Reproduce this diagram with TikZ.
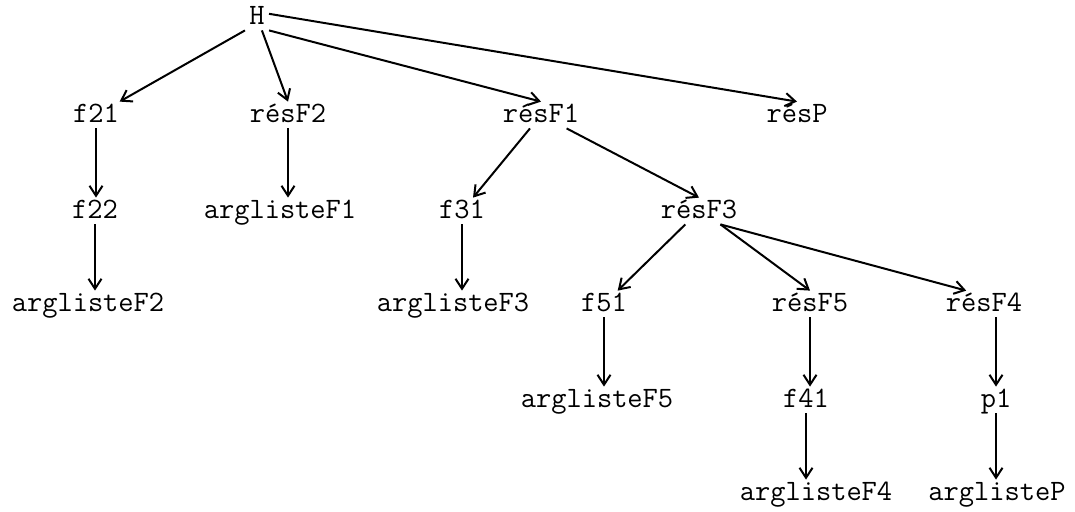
\documentclass[tikz,border=0pt]{standalone}
\usepackage{fontspec}
\usetikzlibrary{arrows.meta}
\begin{document}
\begin{tikzpicture}[
    x=0.5pt, y=-0.5pt,
    lab/.style={font=\ttfamily\fontsize{14.8}{17}\selectfont, inner sep=2pt, text height=8pt, text depth=1pt},
    arr/.style={-{Straight Barb[length=5pt,width=6.5pt]}, line width=1pt}]
  \useasboundingbox (0,0) rectangle (1075,511);
  % the nodes, row by row
  \node[lab] (H)     at (257,17)  {H};
  \node[lab] (f21)   at (96,115)  {f21};
  \node[lab] (resF2) at (288,115) {résF2};
  \node[lab] (resF1) at (541,115) {résF1};
  \node[lab] (resP)  at (797,115) {résP};
  \node[lab] (f22)   at (95,211)  {f22};
  \node[lab] (argF1) at (280,211) {arglisteF1};
  \node[lab] (f31)   at (462,211) {f31};
  \node[lab] (resF3) at (699,211) {résF3};
  \node[lab] (argF2) at (88,304)  {arglisteF2};
  \node[lab] (argF3) at (453,304) {arglisteF3};
  \node[lab] (f51)   at (604,304) {f51};
  \node[lab] (resF5) at (810,304) {résF5};
  \node[lab] (resF4) at (984,304) {résF4};
  \node[lab] (argF5) at (597,400) {arglisteF5};
  \node[lab] (f41)   at (806,400) {f41};
  \node[lab] (p1)    at (996,400) {p1};
  \node[lab] (argF4) at (816,493) {arglisteF4};
  \node[lab] (argP)  at (997,493) {arglisteP};
  % slanted arrows
  \draw[arr] (H.south west) -- (f21);
  \draw[arr] (H) -- (resF2.north);
  \draw[arr] (H.south east) -- (resF1.north);
  \draw[arr] (H.15) -- (resP.north);
  \draw[arr] (resF1) -- (f31);
  \draw[arr] (resF1) -- (resF3.north);
  \draw[arr] (resF3) -- (f51);
  \draw[arr] (resF3.-32) -- (resF5.north);
  \draw[arr] (resF3.-32) -- (resF4.143);
  % straight down
  \draw[arr] (f21.south) -- (f21.south |- f22.north);
  \draw[arr] (f22.south) -- (f22.south |- argF2.north);
  \draw[arr] (resF2.south) -- (resF2.south |- argF1.north);
  \draw[arr] (f31.south) -- (f31.south |- argF3.north);
  \draw[arr] (f51.south) -- (f51.south |- argF5.north);
  \draw[arr] (resF5.south) -- (resF5.south |- f41.north);
  \draw[arr] (f41.south) -- (f41.south |- argF4.north);
  \draw[arr] (resF4.south -| p1) -- (p1.north);
  \draw[arr] (p1.south) -- (p1.south |- argP.north);
\end{tikzpicture}
\end{document}
